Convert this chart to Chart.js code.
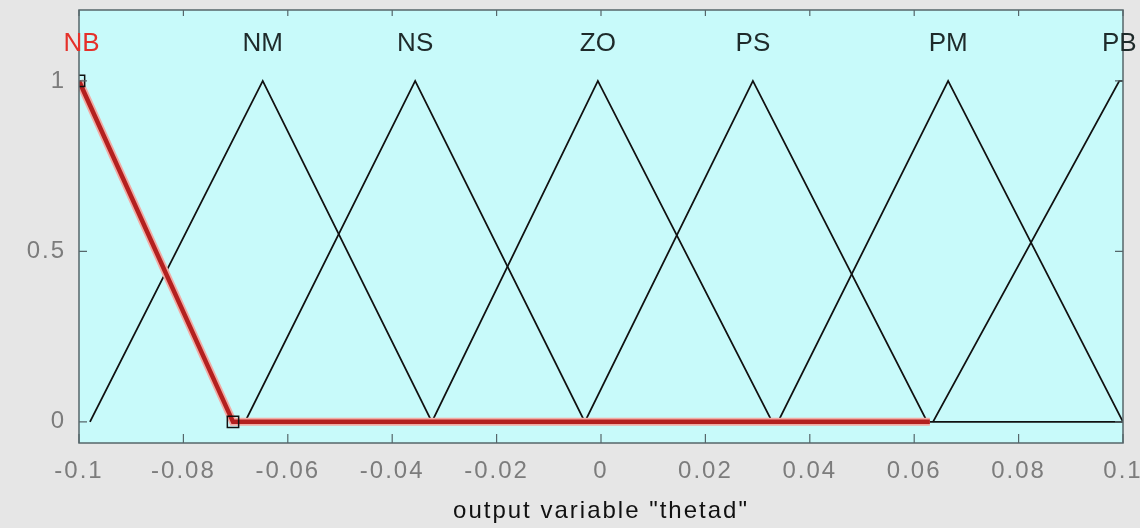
<!DOCTYPE html>
<html>
<head>
<meta charset="utf-8">
<script src="https://cdn.jsdelivr.net/npm/chart.js@4"></script>
<style>
  html, body { margin: 0; padding: 0; background: #e6e6e6; }
</style>
</head>
<body>
<canvas id="mfChart" width="1140" height="528"></canvas>
<script>
'use strict';

// membership function names and where their label sits
const mfNames = ['NB', 'NM', 'NS', 'ZO', 'PS', 'PM', 'PB'];
const mfLabelX = [-0.0995, -0.0648, -0.0356, -0.0006, 0.0291, 0.0665, 0.0993];

// selected MF (drawn red)
const nbX = [-0.1, -0.0705, 0.063];
const nbY = [1, 0, 0];

// the other MFs
const nmX = [-0.0979, -0.0648, -0.0324];
const nsX = [-0.0682, -0.0356, -0.0031];
const zoX = [-0.0324, -0.0006, 0.0328];
const psX = [-0.0031, 0.0291, 0.0625];
const pmX = [0.0339, 0.0665, 0.1];
const pbX = [0.0636, 0.0993, 0.1];
const triY = [0, 1, 0];
const pbY = [0, 1, 1];
const baseX = [-0.0705, 0.1];
const baseY = [0, 0];

const xTicks = [-0.1, -0.08, -0.06, -0.04, -0.02, 0, 0.02, 0.04, 0.06, 0.08, 0.1];
const xTickLabels = ['-0.1', '-0.08', '-0.06', '-0.04', '-0.02', '0', '0.02', '0.04', '0.06', '0.08', '0.1'];
const yTicks = [0, 0.5, 1];
const yTickLabels = ['0', '0.5', '1'];

function pts(xs, ys) {
    return xs.map((x, i) => ({ x: x, y: ys[i] }));
}

function mfLine(xs, ys) {
    return {
        data: pts(xs, ys),
        showLine: true,
        borderColor: '#111',
        borderWidth: 1.8,
        pointRadius: 0,
        tension: 0
    };
}

const plotFrame = {
    id: 'plotFrame',
    beforeDraw(chart) {
        const ctx = chart.ctx;
        const a = chart.chartArea;
        ctx.letterSpacing = '2px';
        ctx.save();
        ctx.fillStyle = '#c8fafa';
        ctx.fillRect(a.left, a.top, a.right - a.left, a.bottom - a.top);
        ctx.restore();
    },
    afterDatasetsDraw(chart) {
        const ctx = chart.ctx;
        const a = chart.chartArea;
        const xs = chart.scales.x;
        const ys = chart.scales.y;
        ctx.save();
        ctx.strokeStyle = '#56666a';
        ctx.lineWidth = 1.5;
        ctx.strokeRect(a.left, a.top, a.right - a.left, a.bottom - a.top);
        ctx.lineWidth = 1.2;
        ctx.beginPath();
        xTicks.forEach(v => {
            const px = xs.getPixelForValue(v);
            ctx.moveTo(px, a.bottom);
            ctx.lineTo(px, a.bottom - 9);
            ctx.moveTo(px, a.top);
            ctx.lineTo(px, a.top + 6);
        });
        yTicks.forEach(v => {
            const py = ys.getPixelForValue(v);
            ctx.moveTo(a.left, py);
            ctx.lineTo(a.left + 8, py);
            ctx.moveTo(a.right, py);
            ctx.lineTo(a.right - 8, py);
        });
        ctx.stroke();

        // MF names above the peaks
        ctx.letterSpacing = '0px';
        ctx.font = '26px "Liberation Sans", Arial, sans-serif';
        ctx.textAlign = 'center';
        ctx.textBaseline = 'middle';
        mfNames.forEach((name, i) => {
            ctx.fillStyle = i === 0 ? '#e5302a' : '#1e2a2a';
            ctx.fillText(name, xs.getPixelForValue(mfLabelX[i]), ys.getPixelForValue(1.11));
        });
        ctx.restore();
    }
};

new Chart(document.getElementById('mfChart'), {
    type: 'scatter',
    data: {
        datasets: [
            {
                // selection handles
                data: [pts(nbX, nbY)[0], pts(nbX, nbY)[1]],
                pointStyle: 'rect',
                pointRadius: 8,
                pointBorderColor: '#111',
                pointBorderWidth: 1.5,
                pointBackgroundColor: 'rgba(0,0,0,0)',
                showLine: false
            },
            {
                data: pts(nbX, nbY),
                showLine: true,
                borderColor: '#b3201f',
                borderWidth: 4.5,
                pointRadius: 0,
                tension: 0
            },
            {
                data: pts(nbX, nbY),
                showLine: true,
                borderColor: '#f2aaa4',
                borderWidth: 8,
                pointRadius: 0,
                tension: 0
            },
            mfLine(nmX, triY),
            mfLine(nsX, triY),
            mfLine(zoX, triY),
            mfLine(psX, triY),
            mfLine(pmX, triY),
            mfLine(pbX, pbY),
            mfLine(baseX, baseY)
        ]
    },
    options: {
        responsive: false,
        devicePixelRatio: 1,
        animation: false,
        layout: { padding: { top: 10, right: 17, left: 0, bottom: 0 } },
        plugins: {
            legend: { display: false },
            tooltip: { enabled: false }
        },
        scales: {
            x: {
                type: 'linear',
                min: -0.1,
                max: 0.1,
                grid: { display: false, drawTicks: false },
                border: { display: false },
                afterBuildTicks(scale) {
                    scale.ticks = xTicks.map(v => ({ value: v }));
                },
                afterFit(scale) {
                    scale.height = 85;
                    scale.paddingLeft = 0;
                    scale.paddingRight = 0;
                },
                ticks: {
                    autoSkip: false,
                    maxRotation: 0,
                    padding: 14,
                    color: '#7c7c7c',
                    font: { family: '"Liberation Sans", Arial, sans-serif', size: 24 },
                    callback: (v, i) => xTickLabels[i]
                },
                title: {
                    display: true,
                    text: 'output variable "thetad"',
                    color: '#111',
                    font: { family: '"Liberation Sans", Arial, sans-serif', size: 24 },
                    padding: { top: 0, bottom: 2 }
                }
            },
            y: {
                type: 'linear',
                min: -0.062,
                max: 1.208,
                grid: { display: false, drawTicks: false },
                border: { display: false },
                afterBuildTicks(scale) {
                    scale.ticks = yTicks.map(v => ({ value: v }));
                },
                afterFit(scale) {
                    scale.width = 79;
                    scale.paddingTop = 0;
                    scale.paddingBottom = 0;
                },
                ticks: {
                    padding: 13,
                    color: '#7c7c7c',
                    font: { family: '"Liberation Sans", Arial, sans-serif', size: 24 },
                    callback: (v, i) => yTickLabels[i]
                }
            }
        }
    },
    plugins: [plotFrame]
});
</script>
</body>
</html>
